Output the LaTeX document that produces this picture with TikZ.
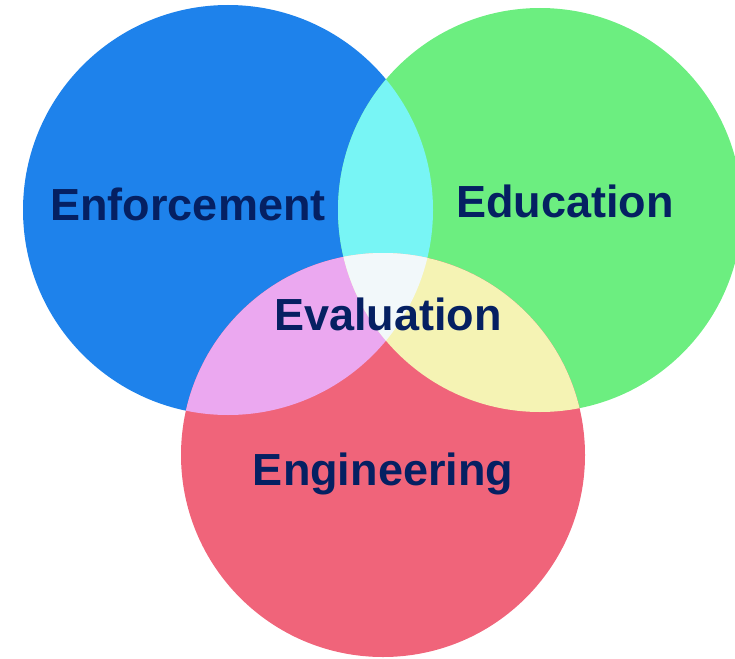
\documentclass[tikz,border=0pt]{standalone}
\usepackage{fontspec}
\setmainfont{Liberation Sans}
\definecolor{enfblue}{RGB}{30,130,235}
\definecolor{edugreen}{RGB}{108,238,128}
\definecolor{engred}{RGB}{240,100,122}
\definecolor{lenscyan}{RGB}{120,245,245}
\definecolor{lenspink}{RGB}{235,168,240}
\definecolor{lensyellow}{RGB}{245,243,180}
\definecolor{lenscentre}{RGB}{242,248,250}
\definecolor{navy}{RGB}{5,32,98}
\begin{document}
\begin{tikzpicture}[x=1pt, y=-1pt,
	word/.style={font=\fontsize{45}{54}\selectfont\bfseries, text=navy, anchor=base, inner sep=0pt}]
	\useasboundingbox (0,0) rectangle (735,658);
	\coordinate (blue) at (228,210);
	\coordinate (green) at (540,210);
	\coordinate (red) at (383,455);
	
	\fill[enfblue] (blue) circle (205pt);
	\fill[edugreen] (green) circle (202pt);
	\fill[engred] (red) circle (202pt);
	
	\begin{scope}
		\clip (blue) circle (205pt);
		\fill[lenscyan] (green) circle (202pt);
		\fill[lenspink] (red) circle (202pt);
	\end{scope}
	\begin{scope}
		\clip (green) circle (202pt);
		\fill[lensyellow] (red) circle (202pt);
		\clip (blue) circle (205pt);
		\fill[lenscentre] (red) circle (202pt);
	\end{scope}
	
	\node[word] (enforcement) at (188,220) {Enforcement};
	\node[word] (education) at (565,217) {Education};
	\node[word] (evaluation) at (388,330) {Evaluation};
	\node[word] (engineering) at (383,485) {Engineering};
\end{tikzpicture}
\end{document}
